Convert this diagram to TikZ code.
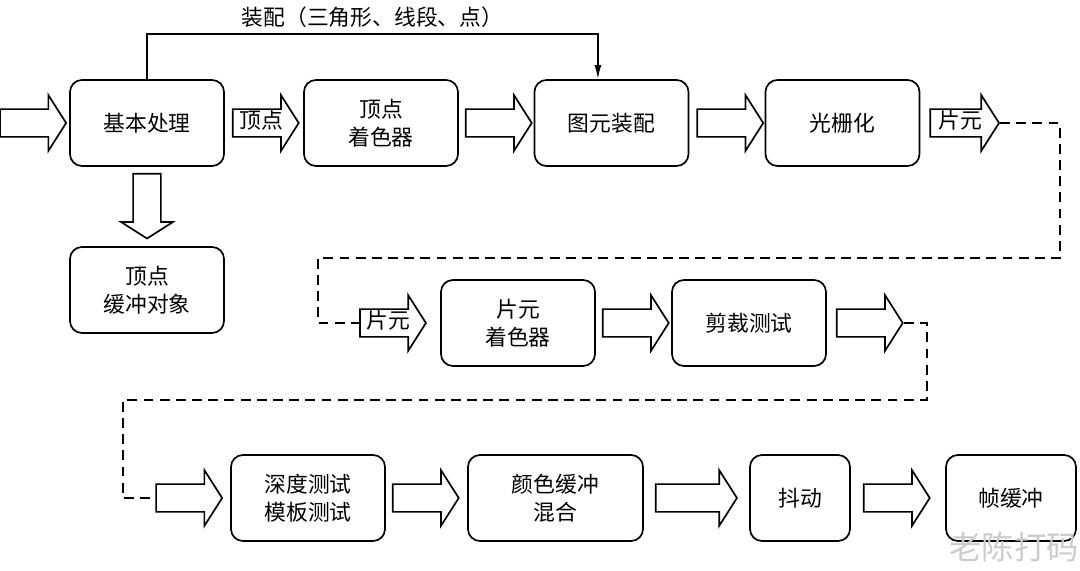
\documentclass[tikz,border=0pt]{standalone}
\usepackage{fontspec}
\usepackage{tikz}
\usetikzlibrary{shapes.arrows, arrows.meta, positioning}
\newfontfamily\cnfont{Noto Sans CJK SC}

\begin{document}
\begin{tikzpicture}[
    x=0.025cm, y=-0.025cm,
    stage/.style={rectangle, draw, line width=1.2pt, rounded corners=0.3cm, minimum width=3.85cm, minimum height=2.15cm, align=center, font=\cnfont\fontsize{15.5}{20}\selectfont},
    flow/.style={single arrow, draw, line width=1.2pt, fill=white, minimum height=1.65cm, text height=0.47cm, text depth=0.18cm, inner sep=0pt, single arrow head extend=0.35cm, single arrow tip angle=115, font=\cnfont\fontsize{15.5}{20}\selectfont},
    link/.style={-{Latex[length=10pt, width=5pt]}, line width=1.2pt},
    dashlink/.style={line width=1.2pt, dash pattern=on 7pt off 4.5pt}
]
\useasboundingbox (0,0) rectangle (1080,571);

% Geometry stage
\node[stage] (basic) at (147,123) {基本处理};
\node[stage] (vshader) at (381,123) {顶点\\着色器};
\node[stage] (prim) at (611.5,123) {图元装配};
\node[stage] (raster) at (842.5,123) {光栅化};
\node[stage] (vbo) at (147,290) {顶点\\缓冲对象};

\node[flow, left=0.05cm of basic] (feed) {};
\node[flow, right=0.175cm of basic] (a1) {顶点};
\node[flow, right=0.15cm of vshader] (a2) {};
\node[flow, right=0.175cm of prim] (a3) {};
\node[flow, right=0.225cm of raster, minimum height=1.72cm] (a4) {片元};
\node[flow, rotate=-90, anchor=tail, minimum height=1.62cm, single arrow head extend=0.3cm] (down) at ([yshift=-0.15cm]basic.south) {};

% Assembly path
\draw[link] (basic.north) -- ++(0,-45) -| node[pos=0.25, above=1pt, font=\cnfont\fontsize{15.5}{20}\selectfont] (asm) {装配（三角形、线段、点）} ([xshift=-0.34cm]prim.north);

% Fragment stage
\node[stage] (fshader) at (518,323) {片元\\着色器};
\node[stage] (clip) at (749,323) {剪裁测试};

\node[flow, left=0.33cm of fshader] (fa) {片元};
\node[flow, right=0.15cm of fshader] (b1) {};
\node[flow, right=0.225cm of clip] (b2) {};

% Output stage
\node[stage] (depth) at (308,498) {深度测试\\模板测试};
\node[stage, minimum width=4.375cm] (blend) at (555.5,498) {颜色缓冲\\混合};
\node[stage, minimum width=2.5cm] (dither) at (800,498) {抖动};
\node[stage, minimum width=3.25cm] (fbuf) at (1011,498) {帧缓冲};

\node[flow, left=0.175cm of depth] (c0) {};
\node[flow, right=0.15cm of depth] (c1) {};
\node[flow, right=0.275cm of blend, minimum height=2.03cm] (c2) {};
\node[flow, right=0.3cm of dither] (c3) {};

% Dashed hand-overs
\draw[dashlink] (a4.tip) -- ++(60,0) |- (318,258) |- (fa.west);
\draw[dashlink] (b2.tip) -- ++(23,0) |- (123,400) |- (c0.west);

\node[text=gray!40, font=\cnfont\fontsize{23}{25}\selectfont] (mark) at (1014,547) {老陈打码};

\end{tikzpicture}
\end{document}
